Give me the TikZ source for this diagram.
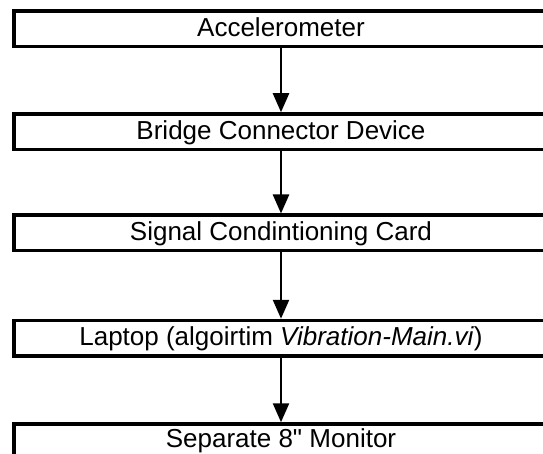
\documentclass[tikz,border=0pt]{standalone}
\usepackage{fontspec}
\newfontfamily\arialish{Liberation Sans}
\usetikzlibrary{arrows.meta}
\begin{document}
\begin{tikzpicture}[x=1pt,y=-1pt,
  box/.style={draw, line width=3.5pt, minimum width=534pt, minimum height=35.5pt,
    inner sep=0pt, text height=18.6pt, text depth=4pt,
    font=\arialish\fontsize{26}{30}\selectfont},
  arr/.style={line width=2.5pt, -{Triangle[width=16pt,length=19pt]}}]
\useasboundingbox (0,0) rectangle (543,454);
\clip (0,0) rectangle (543,454);
\node[box] (b1) at (281,28.75) {Accelerometer};
\node[box] (b2) at (281,131.75) {Bridge Connector Device};
\node[box] (b3) at (281,233) {Signal Condintioning Card};
\node[box] (b4) at (281,338.25) {Laptop (algoirtim \textit{Vibration-Main.vi}\/)};
\node[box, text depth=8.1pt] (b5) at (281,441.75) {Separate 8" Monitor};
\draw[arr] (b1) -- (b2);
\draw[arr] (b2) -- (b3);
\draw[arr] (b3) -- (b4);
\draw[arr] (b4) -- (b5);
\end{tikzpicture}
\end{document}
